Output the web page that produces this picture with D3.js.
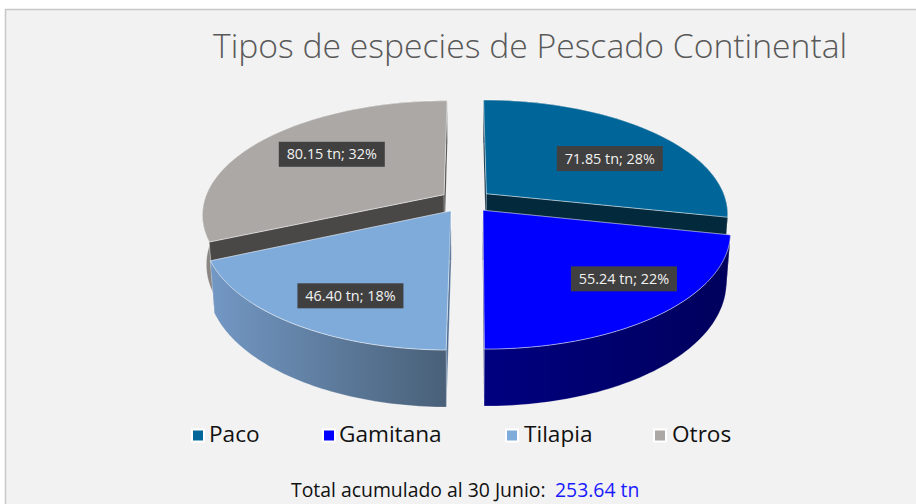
<!DOCTYPE html>
<html lang="es">
<head>
<meta charset="UTF-8">
<title>Tipos de especies de Pescado Continental</title>
<script src="https://d3js.org/d3.v7.min.js"></script>
<style>
  html, body { margin: 0; padding: 0; background: #fff; overflow: hidden; }
  svg { display: block; }
  text { font-family: "Open Sans", sans-serif; }
</style>
</head>
<body>
<svg id="chart" width="916" height="504"></svg>
<script>
const species = ["Paco", "Gamitana", "Tilapia", "Otros"];
const tonnes = [71.85, 55.24, 46.40, 80.15];
const shares = ["28%", "22%", "18%", "32%"];
const totalText = "253.64 tn";
const titleText = "Tipos de especies de Pescado Continental";

const topColors = ["#006699", "#0000ff", "#7fabdb", "#aca8a6"];
const cutColors = ["#03293d", "#00004f", "#4f6f95", "#4a4747"];
const wallLeft = ["#03293d", "#000080", "#7398c4", "#8a8785"];
const wallRight = ["#03293d", "#00005c", "#496078", "#6f6c6a"];

// label spot inside each slice: radius and turn from the bisector (degrees)
const labelRadius = [0.65, 0.75, 0.75, 0.65];
const labelTurn = [7.5, -5, -4, 4];
// left hand slices sit a little further out than the model gives
const sliceNudge = [0, 0, -2, -2];
const legendSwatchX = [191, 322, 505, 653];
const legendTextX = [209, 339, 524, 672];

// projection of the tilted disc
const cx = 467, cy = 201, A = 240, B = 111.8, k = 0.169, D = 49.7, m = 0.015;
const explode = 0.105;

const svg = d3.select("#chart");
const defs = svg.append("defs");

svg.append("rect").attr("x", 5.5).attr("y", 9.5).attr("width", 930).attr("height", 520)
  .attr("fill", "#f2f2f2").attr("stroke", "#c8c8c8").attr("stroke-width", 1.5);

function project(u, v, z) {
  const w = 1 - k * v + m * z;
  return [cx + A * u / w, cy + (B * v + D * z) / w];
}

const slices = d3.pie().sort(null).value(d => d)(tonnes);
const line = d3.line();

function rimPoint(s, angle, z) {
  const mid = (s.startAngle + s.endAngle) / 2;
  const p = project(Math.sin(angle) + explode * Math.sin(mid), -Math.cos(angle) - explode * Math.cos(mid), z);
  return [p[0] + sliceNudge[s.index], p[1]];
}
function apex(s, z) {
  const mid = (s.startAngle + s.endAngle) / 2;
  const p = project(explode * Math.sin(mid), -explode * Math.cos(mid), z);
  return [p[0] + sliceNudge[s.index], p[1]];
}
function rim(s, z) {
  return d3.range(0, 61).map(i => rimPoint(s, s.startAngle + (s.endAngle - s.startAngle) * i / 60, z));
}

// back slices first so the front ones cover them
const drawOrder = [3, 0, 2, 1];
drawOrder.forEach(i => {
  const s = slices[i];
  const g = svg.append("g");
  const top = rim(s, 0), bottom = rim(s, 1);

  const grad = defs.append("linearGradient").attr("id", "wall" + i)
    .attr("gradientUnits", "userSpaceOnUse")
    .attr("x1", d3.min(top, d => d[0])).attr("x2", d3.max(top, d => d[0]))
    .attr("y1", 0).attr("y2", 0);
  grad.append("stop").attr("offset", 0).attr("stop-color", wallLeft[i]);
  grad.append("stop").attr("offset", 1).attr("stop-color", wallRight[i]);

  const drawWall = () => g.append("path").attr("d", line(top.concat(bottom.slice().reverse())) + "Z")
    .attr("fill", "url(#wall" + i + ")")
    .attr("stroke", "#ffffff").attr("stroke-opacity", 0.35).attr("stroke-width", 0.7);
  const drawCuts = () => [
    [apex(s, 0), top[0], bottom[0], apex(s, 1)],
    [apex(s, 0), top[60], bottom[60], apex(s, 1)]
  ].forEach(c => {
    g.append("path").attr("d", line(c) + "Z").attr("fill", cutColors[i])
      .attr("stroke", "#ffffff").attr("stroke-opacity", 0.35).attr("stroke-width", 0.7);
  });
  // the back slices show their cut faces in front of the rim, the front ones the other way round
  if (i === 0 || i === 3) { drawWall(); drawCuts(); } else { drawCuts(); drawWall(); }

  g.append("path").attr("d", line([apex(s, 0)].concat(top)) + "Z")
    .attr("fill", topColors[i])
    .attr("stroke", "#ffffff").attr("stroke-opacity", 0.6).attr("stroke-width", 0.8);
});

// data labels
slices.forEach((s, i) => {
  const mid = (s.startAngle + s.endAngle) / 2;
  const a = mid + labelTurn[i] * Math.PI / 180;
  const p = project(labelRadius[i] * Math.sin(a) + explode * Math.sin(mid),
    -labelRadius[i] * Math.cos(a) - explode * Math.cos(mid), 0);
  svg.append("rect").attr("x", p[0] - 53).attr("y", p[1] - 12.5)
    .attr("width", 106).attr("height", 25).attr("fill", "#404040");
  svg.append("text").attr("x", p[0]).attr("y", p[1] + 5)
    .attr("text-anchor", "middle").attr("font-size", 14.4).attr("fill", "#f2f2f2")
    .text(d3.format(".2f")(tonnes[i]) + " tn; " + shares[i]);
});

svg.append("text").attr("x", 213).attr("y", 58)
  .attr("font-size", 33.7).attr("font-weight", 300).attr("fill", "#595959")
  .text(titleText);

species.forEach((name, i) => {
  svg.append("rect").attr("x", legendSwatchX[i] + 1).attr("y", 429.5)
    .attr("width", 12).attr("height", 12)
    .attr("fill", topColors[i]).attr("stroke", "#ffffff").attr("stroke-width", 2);
  svg.append("text").attr("x", legendTextX[i]).attr("y", 442)
    .attr("font-size", 22.6).attr("fill", "#111111").text(name);
});

svg.append("text").attr("x", 291).attr("y", 497).attr("font-size", 19.4).attr("fill", "#111111")
  .text("Total acumulado al 30 Junio:");
svg.append("text").attr("x", 555).attr("y", 497).attr("font-size", 19.4).attr("fill", "#1a1aff")
  .text(totalText);
</script>
</body>
</html>
